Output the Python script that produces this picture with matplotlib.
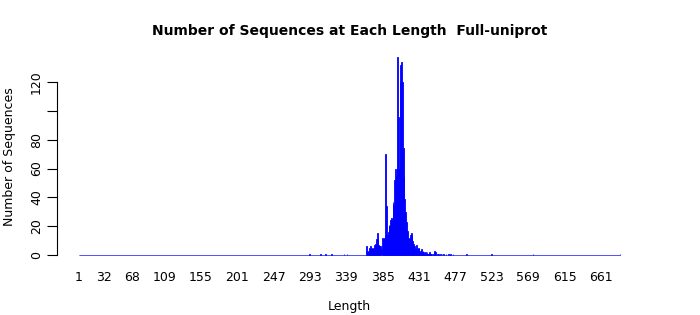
import numpy as np
import matplotlib
matplotlib.use('Agg')
import matplotlib.pyplot as plt

# lengths with non-zero counts
lengths = [292, 306, 313, 320, 336, 340,
           365, 366, 367, 368, 369, 370, 371, 372, 373, 374, 375, 376, 377, 378,
           379, 380, 381, 382, 383, 384, 385, 386, 387, 388, 389, 390, 391, 392,
           393, 394, 395, 396, 397, 398, 399, 400, 401, 402, 403, 404, 405, 406,
           407, 408, 409, 410, 411, 412, 413, 414, 415, 416, 417, 418, 419, 420,
           421, 422, 423, 424, 425, 426, 427, 428, 429, 430, 431, 432, 433, 434,
           435, 436, 437, 438, 439, 440, 441, 442, 443, 444, 445, 446, 447, 449,
           451, 452, 454, 456, 458, 460, 462, 465, 468, 471, 474, 491, 523, 575, 685]
counts = [1, 1, 1, 1, 1, 1,
          6, 3, 2, 5, 4, 6, 4, 5, 4, 5, 7, 8, 11, 15,
          11, 7, 6, 6, 5, 4, 12, 11, 12, 14, 70, 34, 14, 16,
          21, 20, 24, 26, 24, 37, 35, 52, 60, 55, 60, 137, 96, 60,
          120, 132, 134, 120, 74, 54, 39, 30, 23, 17, 10, 12, 11, 14,
          15, 14, 10, 8, 6, 4, 5, 7, 4, 5, 4, 3, 2, 4,
          2, 3, 2, 1, 2, 1, 2, 1, 1, 2, 1, 1, 1, 1,
          3, 2, 1, 1, 1, 1, 1, 1, 1, 1, 1, 1, 1, 1, 1]
max_len = 685

xtick_vals = [1, 32, 68, 109, 155, 201, 247, 293, 339, 385, 431, 477, 523, 569, 615, 661]
ytick_vals = [0, 20, 40, 60, 80, 100, 120]
ytick_labels = ['0', '20', '40', '60', '80', '', '120']

# every length from 1 to max gets a bar, zero ones included
all_len = np.arange(1, max_len + 1)
all_cnt = np.zeros(max_len)
for l, c in zip(lengths, counts):
    all_cnt[l - 1] = c

fig = plt.figure(figsize=(7, 3.15), dpi=100)
ax = fig.add_axes([0.0814, 0.165, 0.8357, 0.678])

ax.bar(all_len, all_cnt, width=1.0, color='blue', edgecolor='blue', linewidth=0.6)

pad_x = 0.04 * max_len
ax.set_xlim(0.5 - pad_x, max_len + 0.5 + pad_x)
ymax = max(counts)
ax.set_ylim(-0.04 * ymax, ymax * 1.04)

for s in ['top', 'right', 'bottom']:
    ax.spines[s].set_visible(False)
ax.spines['left'].set_bounds(0, 120)
ax.spines['left'].set_linewidth(0.8)

ax.set_yticks(ytick_vals)
ax.set_yticklabels(ytick_labels, rotation=90, va='center', fontsize=9)
ax.tick_params(axis='y', length=7, width=0.8, pad=3)

ax.set_xticks(xtick_vals)
ax.set_xticklabels([str(v) for v in xtick_vals], fontsize=9)
ax.tick_params(axis='x', length=0, pad=6)

ax.set_xlabel('Length', fontsize=9, labelpad=11)
ax.set_ylabel('Number of Sequences', fontsize=9, labelpad=10)
fig.suptitle('Number of Sequences at Each Length  Full-uniprot',
             fontsize=10, fontweight='bold', x=0.5, y=0.925)

fig.savefig('out.png', dpi=100)
